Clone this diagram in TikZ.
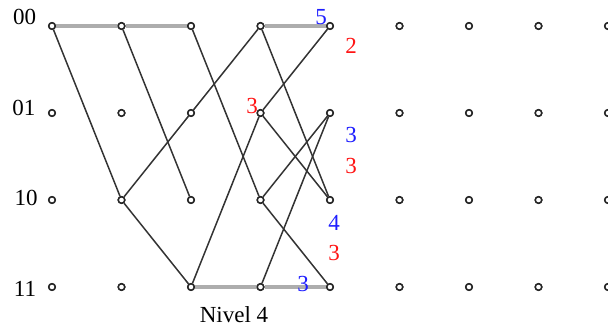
\documentclass[tikz,border=0pt]{standalone}
\usepackage{fontspec}
\setmainfont{Liberation Serif}
\definecolor{lblblue}{RGB}{30,30,255}
\definecolor{lblred}{RGB}{255,20,20}
\begin{document}
\begin{tikzpicture}[x=1pt,y=-1pt,
  dot/.style={circle,draw=black!85,fill=white,inner sep=0pt,minimum size=6.5pt,line width=1.5pt},
  br/.style={draw=black!80,line width=1.5pt},
  gr/.style={draw=black!32,line width=3.6pt},
  lbl/.style={font=\fontsize{23}{25}\selectfont,inner sep=0pt},
  wb/.style={lbl,text=lblblue},
  wr/.style={lbl,text=lblred}]
\useasboundingbox (0,0) rectangle (608,331);
% grid of states
\foreach \i in {0,...,8}{
  \foreach \j/\yy in {0/26,1/113,2/200,3/287}{
    \node[dot] (c\i s\j) at ({52+69.5*\i},\yy) {};
  }
}
% state labels
\node[lbl] (l00) at (24.5,17) {00};
\node[lbl] (l01) at (24,108) {01};
\node[lbl] (l10) at (26,198) {10};
\node[lbl] (l11) at (25,289) {11};
% gray (horizontal) branches
\draw[gr] (c0s0) -- (c1s0);
\draw[gr] (c1s0) -- (c2s0);
\draw[gr] (c3s0) -- (c4s0);
\draw[gr] (c2s3) -- (c3s3);
\draw[gr] (c3s3) -- (c4s3);
% dark branches
\draw[br] (c0s0) -- (c1s2);
\draw[br] (c1s0) -- (c2s2);
\draw[br] (c1s2) -- (c2s1);
\draw[br] (c1s2) -- (c2s3);
\draw[br] (c2s0) -- (c3s2);
\draw[br] (c2s1) -- (c3s0);
\draw[br] (c2s3) -- (c3s1);
\draw[br] (c3s0) -- (c4s2);
\draw[br] (c3s1) -- (c4s0);
\draw[br] (c3s1) -- (c4s2);
\draw[br] (c3s2) -- (c4s1);
\draw[br] (c3s2) -- (c4s3);
\draw[br] (c3s3) -- (c4s1);
% redraw nodes on top of the lines
\foreach \i in {0,...,8}{
  \foreach \j/\yy in {0/26,1/113,2/200,3/287}{
    \node[dot] at ({52+69.5*\i},\yy) {};
  }
}
% metrics
\node[wb] (m1) at (321,17) {5};
\node[wr] (m2) at (351,46) {2};
\node[wr] (m3) at (252,106) {3};
\node[wb] (m4) at (351,135) {3};
\node[wr] (m5) at (351,166) {3};
\node[wb] (m6) at (334,223) {4};
\node[wr] (m7) at (334,253) {3};
\node[wb] (m8) at (303,284) {3};
\node[lbl] (niv) at (234,315) {Nivel 4};
\end{tikzpicture}
\end{document}
